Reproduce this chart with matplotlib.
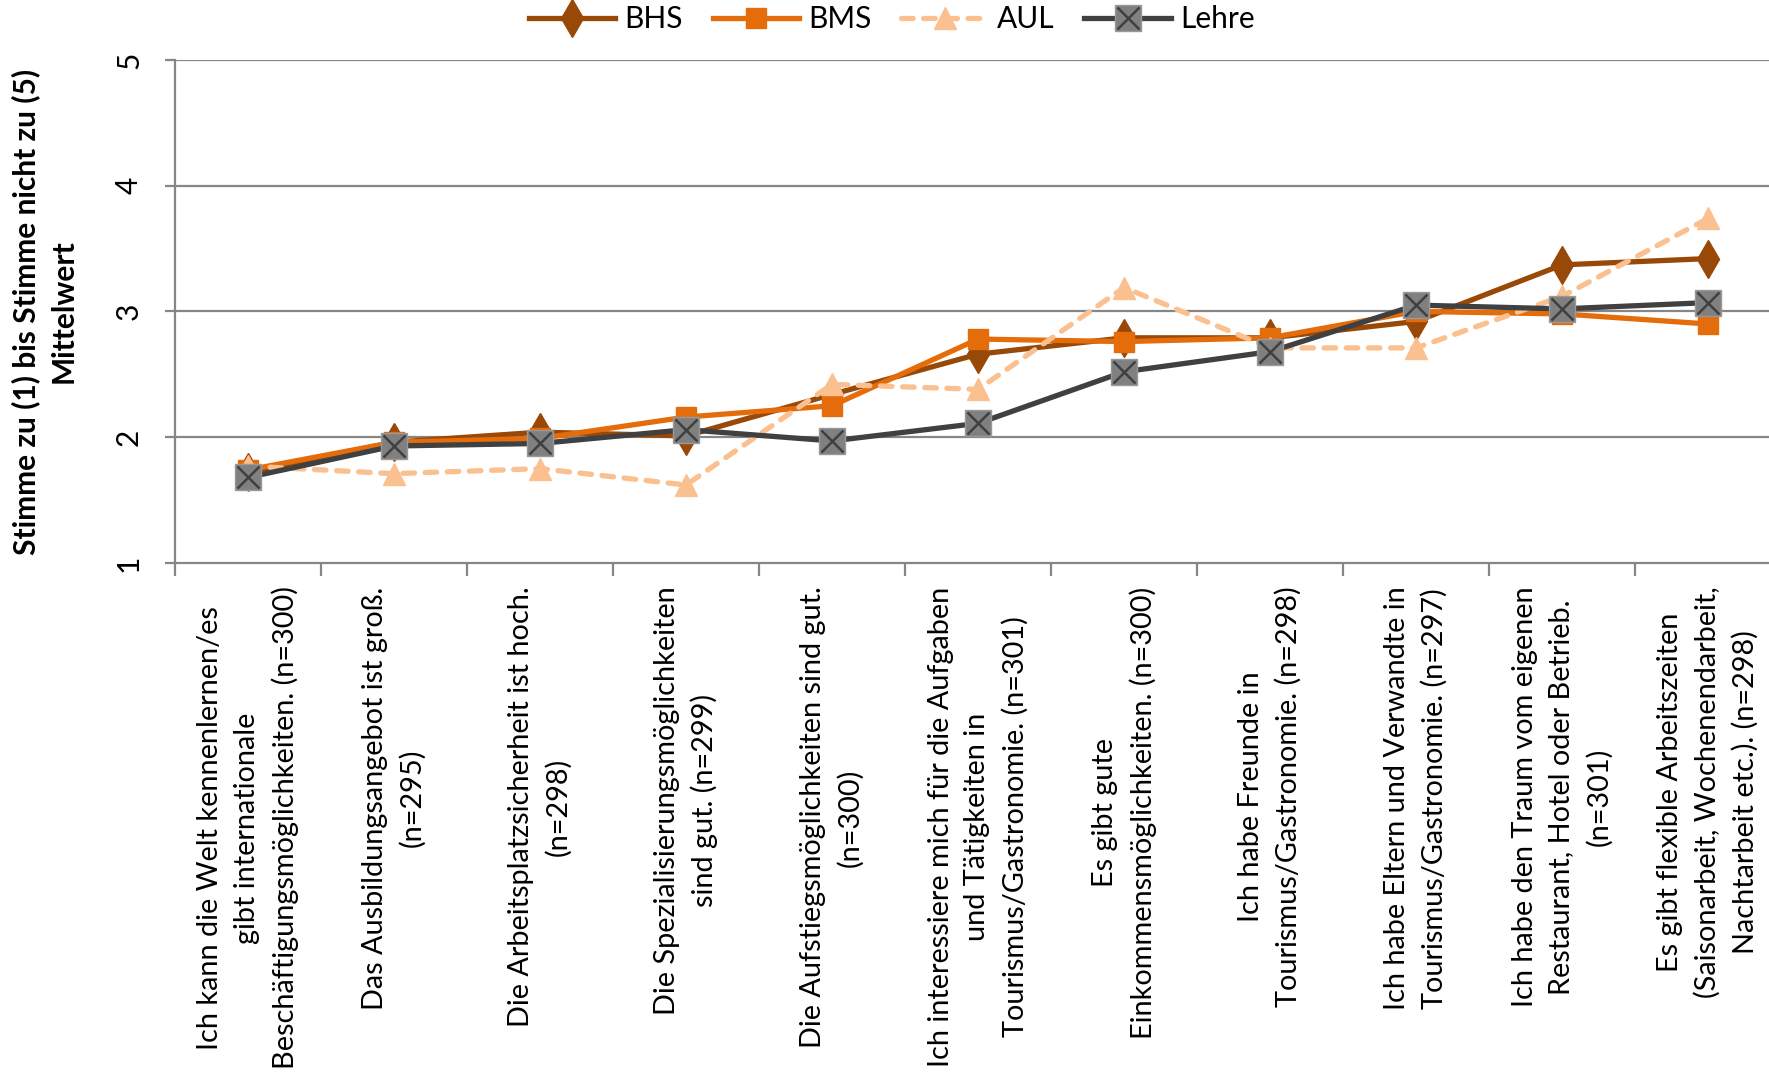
import numpy as np
import matplotlib
matplotlib.use("Agg")
import matplotlib.pyplot as plt

plt.rcParams['font.family'] = ['Lato', 'DejaVu Sans']

labels = [
    "Ich kann die Welt kennenlernen/es\ngibt internationale\nBeschäftigungsmöglichkeiten. (n=300)",
    "Das Ausbildungsangebot ist groß.\n(n=295)",
    "Die Arbeitsplatzsicherheit ist hoch.\n(n=298)",
    "Die Spezialisierungsmöglichkeiten\nsind gut. (n=299)",
    "Die Aufstiegsmöglichkeiten sind gut.\n(n=300)",
    "Ich interessiere mich für die Aufgaben\nund Tätigkeiten in\nTourismus/Gastronomie. (n=301)",
    "Es gibt gute\nEinkommensmöglichkeiten. (n=300)",
    "Ich habe Freunde in\nTourismus/Gastronomie. (n=298)",
    "Ich habe Eltern und Verwandte in\nTourismus/Gastronomie. (n=297)",
    "Ich habe den Traum vom eigenen\nRestaurant, Hotel oder Betrieb.\n(n=301)",
    "Es gibt flexible Arbeitszeiten\n(Saisonarbeit, Wochenendarbeit,\nNachtarbeit etc.). (n=298)",
]

bhs = [1.72, 1.96, 2.04, 2.01, 2.34, 2.66, 2.79, 2.79, 2.92, 3.37, 3.42]
bms = [1.74, 1.96, 1.99, 2.16, 2.25, 2.78, 2.76, 2.79, 3.00, 2.98, 2.90]
aul = [1.77, 1.71, 1.75, 1.62, 2.42, 2.38, 3.19, 2.71, 2.71, 3.12, 3.74]
lehre = [1.68, 1.93, 1.95, 2.06, 1.97, 2.11, 2.52, 2.68, 3.05, 3.02, 3.07]

x = np.arange(1, len(labels) + 1)
grau = '#868686'
fs = 21.5

fig = plt.figure(figsize=(17.69, 10.82), dpi=100)
ax = fig.add_axes([0.0989, 0.4797, 0.908, 0.465])

# gitternetz
for yy in [2, 3, 4, 5]:
    ax.axhline(yy, color=grau, lw=1.6, zorder=1)

l_bhs, = ax.plot(x, bhs, color='#984807', lw=3.8, marker='d', ms=19,
                 mfc='#984807', mec='#984807', zorder=3, label='BHS')
l_bms, = ax.plot(x, bms, color='#E46C0A', lw=3.8, marker='s', ms=15,
                 mfc='#E46C0A', mec='#E46C0A', zorder=4, label='BMS')
l_aul, = ax.plot(x, aul, color='#FAC090', lw=3.8, marker='^', ms=16,
                 mfc='#FAC090', mec='#FAC090', zorder=5, label='AUL',
                 dashes=(2.2, 2.0), dash_capstyle='round')
l_leh, = ax.plot(x, lehre, color='#404040', lw=3.8, marker='s', ms=19,
                 mfc='#808080', mec='#999999', mew=1, zorder=6, label='Lehre')
l_x, = ax.plot(x, lehre, ls='none', marker='x', ms=16, mec='#404040',
               mew=1.8, zorder=7)

ax.set_xlim(0.5, len(labels) + 0.5)
ax.set_ylim(1, 5)

for s in ['top', 'right']:
    ax.spines[s].set_visible(False)
for s in ['left', 'bottom']:
    ax.spines[s].set_color(grau)
    ax.spines[s].set_linewidth(1.6)

ax.set_yticks([1, 2, 3, 4, 5])
ax.set_yticklabels(['1', '2', '3', '4', '5'], rotation=90, va='center')
ax.tick_params(axis='y', length=7, width=1.6, color=grau, pad=16, labelsize=fs)

ax.set_xticks(x)
ax.set_xticklabels(labels, rotation=90, ha='center', va='top',
                   multialignment='center', fontsize=20.8, linespacing=1.5)
ax.set_xticks(np.arange(0.5, len(labels) + 1, 1), minor=True)
ax.tick_params(axis='x', which='major', length=0, pad=17)
ax.tick_params(axis='x', which='minor', length=9, width=1.6, color=grau)

fig.text(0.025, 0.712, "Stimme zu (1) bis Stimme nicht zu (5)\nMittelwert",
         rotation=90, ha='center', va='center', multialignment='center',
         fontsize=fs, fontweight='bold', linespacing=1.4)

fig.legend([l_bhs, l_bms, l_aul, (l_leh, l_x)], ['BHS', 'BMS', 'AUL', 'Lehre'],
           loc='center', bbox_to_anchor=(0.504, 0.982), ncol=4, frameon=False,
           fontsize=fs, handlelength=2.9, handletextpad=0.3, columnspacing=1.0)

fig.savefig('out.png', dpi=100)
